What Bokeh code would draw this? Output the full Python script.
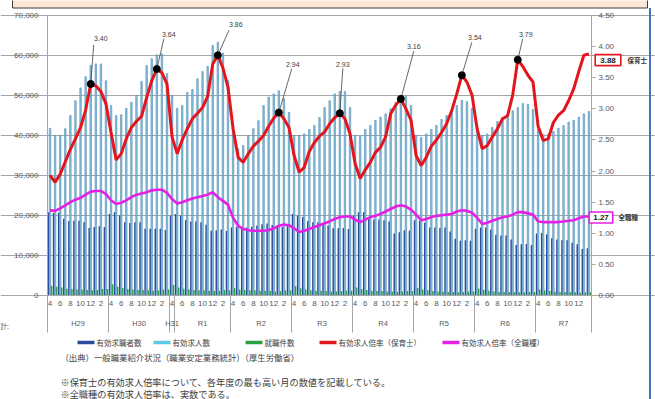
from bokeh.plotting import figure
from bokeh.models import (Range1d, LinearAxis, FixedTicker, ColumnDataSource, Label,
                          CustomJSTickFormatter, NumeralTickFormatter, Grid)
from bokeh.transform import dodge
from bokeh.embed import file_html
from bokeh.resources import INLINE
from bokeh.core.properties import value

# ---------------- data (monthly, Apr 2017 .. Feb 2026) ----------------
fiscal_years = ["H29", "H30", "H31", "R1", "R2", "R3", "R4", "R5", "R6", "R7"]
fy_months = [12, 12, 1, 11, 12, 12, 12, 12, 12, 11]
cal_months = [4, 5, 6, 7, 8, 9, 10, 11, 12, 1, 2, 3]

# 有効求人倍率(保育士)
ratio_hoikushi = [
    1.93, 1.82, 1.95, 2.15, 2.35, 2.52, 2.70, 2.98, 3.40, 3.37, 3.28, 3.08,
    2.62, 2.18, 2.28, 2.52, 2.70, 2.80, 2.88, 3.18, 3.45, 3.64, 3.58, 3.40,
    2.55, 2.28, 2.50, 2.68, 2.84, 2.93, 3.02, 3.20, 3.72, 3.86, 3.66, 3.35,
    2.68, 2.22, 2.14, 2.28, 2.40, 2.48, 2.57, 2.72, 2.85, 2.94, 2.84, 2.70,
    2.25, 1.98, 2.06, 2.32, 2.46, 2.56, 2.63, 2.76, 2.86, 2.93, 2.84, 2.60,
    2.12, 1.88, 2.02, 2.14, 2.30, 2.38, 2.55, 2.92, 3.06, 3.16, 3.00, 2.82,
    2.25, 2.09, 2.22, 2.40, 2.50, 2.62, 2.76, 2.97, 3.24, 3.54, 3.43, 3.22,
    2.68, 2.36, 2.41, 2.55, 2.68, 2.84, 2.89, 3.22, 3.79, 3.68, 3.54, 3.43,
    2.72, 2.49, 2.52, 2.78, 2.90, 2.97, 3.13, 3.32, 3.60, 3.86, 3.88]

# 有効求人倍率(全職種)
ratio_all = [
    1.37, 1.36, 1.40, 1.45, 1.50, 1.54, 1.57, 1.62, 1.67, 1.68, 1.68, 1.63,
    1.53, 1.47, 1.49, 1.53, 1.58, 1.62, 1.64, 1.66, 1.69, 1.70, 1.70, 1.65,
    1.55, 1.48, 1.50, 1.53, 1.56, 1.58, 1.60, 1.62, 1.66, 1.58, 1.52, 1.46,
    1.25, 1.12, 1.07, 1.05, 1.04, 1.04, 1.04, 1.05, 1.08, 1.12, 1.14, 1.13,
    1.08, 1.02, 1.04, 1.07, 1.10, 1.13, 1.16, 1.19, 1.23, 1.26, 1.27, 1.27,
    1.22, 1.18, 1.22, 1.26, 1.28, 1.31, 1.35, 1.39, 1.43, 1.45, 1.43, 1.38,
    1.30, 1.21, 1.23, 1.26, 1.28, 1.29, 1.30, 1.31, 1.35, 1.37, 1.36, 1.33,
    1.25, 1.15, 1.17, 1.20, 1.23, 1.26, 1.27, 1.30, 1.34, 1.34, 1.32, 1.30,
    1.19, 1.18, 1.18, 1.18, 1.18, 1.19, 1.20, 1.21, 1.24, 1.27, 1.27]

# 有効求人数
job_openings = [
    41800, 40000, 40000, 41700, 45000, 48700, 51900, 54700, 57500, 57900, 57900, 53700,
    47500, 45000, 45200, 46800, 48300, 50000, 53500, 57500, 59200, 60200, 60400, 55500,
    50000, 46800, 47500, 50800, 51500, 54200, 56000, 57300, 62500, 63300, 60600, 53700,
    42500, 36700, 37500, 40000, 41700, 43700, 47500, 49600, 50400, 51200, 49200, 45800,
    40000, 40000, 40400, 41500, 42500, 44500, 47000, 48700, 50400, 51000, 51000, 47000,
    40000, 39800, 41500, 42500, 43800, 44600, 45400, 46700, 48300, 49600, 49800, 47500,
    40000, 39500, 40400, 41500, 42500, 44000, 45000, 46300, 47500, 48800, 48500, 46800,
    42000, 40000, 40400, 42000, 43500, 44500, 45300, 46200, 47000, 48000, 47800, 46500,
    41500, 40200, 40400, 41000, 41800, 42500, 43300, 43800, 44600, 45400, 46000]

# 有効求職者数
job_seekers = [
    20800, 20600, 20700, 19200, 18600, 18700, 18700, 18300, 16900, 17100, 17300, 17100,
    20400, 20800, 20000, 18300, 18100, 18300, 18300, 16700, 16700, 16700, 16700, 16400,
    20000, 20400, 20000, 18900, 18500, 18500, 18300, 17700, 16200, 16300, 16500, 16100,
    17000, 17200, 17000, 17000, 17200, 17500, 17800, 18000, 17600, 17500, 17200, 17500,
    20400, 20000, 19600, 18600, 18300, 18300, 18000, 17500, 16800, 16800, 16900, 16600,
    20000, 20800, 20800, 19500, 19000, 19000, 18800, 18500, 15500, 15800, 16300, 16200,
    18800, 18700, 18200, 17000, 17000, 16900, 17000, 16000, 14200, 13700, 13800, 13700,
    16700, 17000, 17000, 16500, 15200, 15000, 15000, 14000, 12600, 12800, 12900, 12600,
    15500, 15600, 15300, 14300, 14000, 13800, 13800, 13200, 12800, 11600, 11800]

# 就職件数
placements = [
    2400, 2200, 2000, 1700, 1600, 1500, 1500, 1400, 1300, 1400, 1600, 1600,
    2800, 2200, 1900, 1600, 1500, 1400, 1400, 1300, 1200, 1300, 1500, 1500,
    2600, 2000, 1700, 1500, 1400, 1300, 1300, 1200, 1100, 1200, 1400, 1300,
    1800, 1500, 1400, 1300, 1300, 1200, 1200, 1100, 1000, 1100, 1300, 1300,
    2300, 1800, 1500, 1300, 1200, 1200, 1100, 1000, 1000, 1100, 1200, 1200,
    2000, 1600, 1400, 1200, 1100, 1100, 1000, 1000, 900, 1000, 1100, 1100,
    1900, 1500, 1300, 1100, 1000, 1000, 900, 900, 800, 900, 1000, 1000,
    1700, 1400, 1200, 1000, 900, 900, 900, 800, 800, 800, 900, 900,
    1500, 1300, 1100, 1000, 900, 900, 800, 800, 700, 800, 800]

legend_names = ["有効求職者数", "有効求人数", "就職件数", "有効求人倍率（保育士）", "有効求人倍率（全職種）"]
source_text = "（出典）一般職業紹介状況（職業安定業務統計）（厚生労働省）"
note_texts = ["※保育士の有効求人倍率について、各年度の最も高い月の数値を記載している。",
              "※全職種の有効求人倍率は、実数である。"]

# ---------------- geometry (pixels of the 655x399 page) ----------------
W, H = 655, 399
FL, FR, FT, FB = 47, 591, 15, 295          # plot area of the chart
N = len(ratio_hoikushi)
XMIN, XMAX = -0.5, N - 0.5
PPX = (FR - FL) / (XMAX - XMIN)
LMAX, RMAX = 70000, 4.5

def X(px):
    return XMIN + (px - FL) / PPX

def YL(py):
    return (FB - py) * LMAX / (FB - FT)

def YR(py):
    return (FB - py) * RMAX / (FB - FT)

def RPX(dpx):
    return dpx * RMAX / (FB - FT)

C_DARK = "#2c4a9e"
C_LIGHT = "#8cc6df"
C_LIGHT_EDGE = "#3a7aa6"
C_GREEN = "#2aa243"
C_RED = "#e3161d"
C_MAG = "#e51fe5"
C_TXT = "#404040"
C_TICK = "#595959"
C_AX = "#a6a6a6"
JP = "Noto Sans CJK JP"
NUM = "Liberation Sans"

idx = list(range(N))
src = ColumnDataSource(dict(i=idx, seekers=job_seekers, openings=job_openings,
                            placements=placements, red=ratio_hoikushi, mag=ratio_all))

# the frame covers the whole page; axes are pinned at the plot-area edges
p = figure(width=W, height=H, x_range=Range1d(X(0), X(W)), y_range=Range1d(YL(H), YL(0)),
           output_backend="svg", toolbar_location=None, title=None,
           x_axis_type=None, y_axis_type=None, min_border=0)
p.extra_y_ranges = {"r": Range1d(YR(H), YR(0))}
p.outline_line_color = None
p.background_fill_color = "white"
p.border_fill_color = "white"

# grid
p.add_layout(Grid(dimension=1, ticker=FixedTicker(ticks=list(range(0, LMAX + 1, 10000))),
                  bounds=(XMIN, XMAX), grid_line_color=C_AX, grid_line_width=1))

# left axis
yl = LinearAxis(ticker=FixedTicker(ticks=list(range(0, LMAX + 1, 10000))),
                formatter=NumeralTickFormatter(format="0,0"),
                fixed_location=XMIN, bounds=(0, LMAX))
yl.major_tick_out = 0
yl.major_tick_in = 0
yl.minor_tick_line_color = None
yl.axis_line_color = C_AX
yl.major_label_standoff = 9
yl.major_label_text_font = NUM
yl.major_label_text_font_size = "8px"
yl.major_label_text_color = C_TICK
p.add_layout(yl, "left")

# right axis
yr = LinearAxis(y_range_name="r", ticker=FixedTicker(ticks=[k * 0.5 for k in range(10)]),
                formatter=NumeralTickFormatter(format="0.00"),
                fixed_location=XMAX, bounds=(0, RMAX))
yr.major_tick_out = 4
yr.major_tick_in = 0
yr.major_tick_line_color = C_AX
yr.minor_tick_line_color = None
yr.axis_line_color = C_AX
yr.major_label_standoff = 3
yr.major_label_text_font = NUM
yr.major_label_text_font_size = "8px"
yr.major_label_text_color = C_TICK
p.add_layout(yr, "right")

# month axis
month_of = [cal_months[i % 12] for i in idx]
month_labels = [str(month_of[i]) if (i % 2 == 0 and i < N - 1) else "" for i in idx]
bounds = [0]
for n in fy_months:
    bounds.append(bounds[-1] + n)
dividers = [b - 0.5 for b in bounds]
centers = [(bounds[k] + bounds[k + 1] - 1) / 2 for k in range(len(fy_months))]

xm = LinearAxis(ticker=FixedTicker(ticks=[i for i in idx if month_labels[i]]),
                formatter=CustomJSTickFormatter(args=dict(labels=month_labels),
                                                code="return labels[Math.round(tick)] || '';"),
                fixed_location=0, bounds=(XMIN, XMAX))
xm.major_tick_out = 0
xm.major_tick_in = 0
xm.minor_tick_line_color = None
xm.axis_line_color = C_AX
xm.major_label_standoff = 5
xm.major_label_text_font = NUM
xm.major_label_text_font_size = "8px"
xm.major_label_text_color = C_TICK
p.add_layout(xm, "below")

# fiscal-year dividers (long ticks, no labels)
xd = LinearAxis(ticker=FixedTicker(ticks=dividers),
                formatter=CustomJSTickFormatter(code="return '';"),
                fixed_location=0, bounds=(XMIN, XMAX))
xd.major_tick_out = 37
xd.major_tick_in = 0
xd.major_tick_line_color = C_AX
xd.minor_tick_line_color = None
xd.axis_line_color = None
p.add_layout(xd, "below")

# fiscal-year names
xy = LinearAxis(ticker=FixedTicker(ticks=centers),
                formatter=CustomJSTickFormatter(args=dict(pos=centers, names=fiscal_years),
                    code="for (let k = 0; k < pos.length; k++) { if (Math.abs(pos[k] - tick) < 0.01) return names[k]; } return '';"),
                fixed_location=0, bounds=(XMIN, XMAX))
xy.major_tick_out = 0
xy.major_tick_in = 0
xy.minor_tick_line_color = None
xy.major_tick_line_color = None
xy.axis_line_color = None
xy.major_label_standoff = 23
xy.major_label_text_font = NUM
xy.major_label_text_font_size = "7.5px"
xy.major_label_text_color = C_TICK
p.add_layout(xy, "below")

# bars
p.vbar(x=dodge("i", -0.3, range=p.x_range), top="seekers", width=0.3, source=src,
       fill_color=C_DARK, line_color=None)
p.vbar(x=dodge("i", 0.0, range=p.x_range), top="openings", width=0.3, source=src,
       fill_color=C_LIGHT, line_color=C_LIGHT_EDGE, line_width=0.5)
p.vbar(x=dodge("i", 0.3, range=p.x_range), top="placements", width=0.3, source=src,
       fill_color=C_GREEN, line_color=None)

# lines
p.line("i", "mag", source=src, y_range_name="r", line_color=C_MAG, line_width=2.6)
p.line("i", "red", source=src, y_range_name="r", line_color=C_RED, line_width=3)

# fiscal-year peak annotations (all but the running year)
peak_i, peak_v = [], []
for k in range(8):
    block = ratio_hoikushi[12 * k:12 * k + 12]
    m = max(block)
    peak_i.append(12 * k + block.index(m))
    peak_v.append(m)
lbl_dx = [10, 12, 18, 14, 3, 13, 13, 8]
lbl_dy = [-45, -35, -31, -48, -49, -52, -38, -25]
lead_dx = [3, 7, 11, 13, 3, 13, 10, 5]
lead_dy = [-39, -30, -25, -44, -45, -48, -33, -21]
p.segment(x0=peak_i, y0=peak_v,
          x1=[a + d / PPX for a, d in zip(peak_i, lead_dx)],
          y1=[v - RPX(d) for v, d in zip(peak_v, lead_dy)],
          y_range_name="r", line_color="#404040", line_width=0.8)
p.scatter(peak_i, peak_v, y_range_name="r", size=7, color="black")
p.text(x=peak_i, y=peak_v, text=[f"{v:.2f}" for v in peak_v], y_range_name="r",
       x_offset=lbl_dx, y_offset=lbl_dy, text_align="center", text_baseline="middle",
       text_font=value(NUM), text_font_size="7px", text_color=C_TXT)

# end-value boxes at the right
p.add_layout(Label(x=X(607.5), y=ratio_hoikushi[-1] - RPX(6), y_range_name="r",
                   text=f"{ratio_hoikushi[-1]:.2f}", text_align="center", text_baseline="middle",
                   text_font=NUM, text_font_size="8px", text_font_style="bold", text_color="#222222",
                   border_line_color=C_RED, border_line_width=1.6,
                   background_fill_color="white", padding=(5, 3)))
p.add_layout(Label(x=X(627), y=ratio_hoikushi[-1] - RPX(6), y_range_name="r", text="保育士",
                   text_align="left", text_baseline="middle", text_font=JP,
                   text_font_size="6.5px", text_font_style="bold", text_color="#333333"))
p.add_layout(Label(x=X(600.5), y=ratio_all[-1] - RPX(1), y_range_name="r",
                   text=f"{ratio_all[-1]:.2f}", text_align="center", text_baseline="middle",
                   text_font=NUM, text_font_size="8px", text_font_style="bold", text_color="#222222",
                   border_line_color=C_MAG, border_line_width=1.6,
                   background_fill_color="white", padding=(4, 3)))
p.add_layout(Label(x=X(618), y=ratio_all[-1] - RPX(1), y_range_name="r", text="全職種",
                   text_align="left", text_baseline="middle", text_font=JP,
                   text_font_size="6.5px", text_font_style="bold", text_color="#333333"))

# legend row
leg_colors = [C_DARK, "#5fc8e6", C_GREEN, C_RED, C_MAG]
leg_x = [77, 153, 245, 319, 442]
LEG_Y = 342
p.segment(x0=[X(v) for v in leg_x], x1=[X(v + 17) for v in leg_x],
          y0=[YL(LEG_Y)] * 5, y1=[YL(LEG_Y)] * 5, line_color=leg_colors, line_width=3.5)
p.text(x=[X(v + 19) for v in leg_x], y=[YL(LEG_Y)] * 5, text=legend_names,
       text_align="left", text_baseline="middle", text_font=value(JP),
       text_font_size="7.5px", text_color=C_TXT)

# source and notes
p.text(x=[X(60)], y=[YL(356)], text=[source_text], text_align="left", text_baseline="middle",
       text_font=value(JP), text_font_size="8.4px", text_color=C_TXT)
p.text(x=[X(60), X(60)], y=[YL(381), YL(393)], text=note_texts, text_align="left",
       text_baseline="middle", text_font=value(JP), text_font_size="9.2px", text_color=C_TXT)
p.text(x=[X(0)], y=[YL(325)], text=["計:"], text_align="left", text_baseline="middle",
       text_font=value(JP), text_font_size="6.5px", text_color="#555555")

# slide decorations: banner strip at the top, blue border on the right
p.quad(left=[X(12)], right=[X(647)], bottom=[YL(7.5)], top=[YL(-3)],
       fill_color="#fce6d6", line_color="#3a3a3a", line_width=1)
p.quad(left=[X(648.5)], right=[X(650.5)], bottom=[YL(402)], top=[YL(7.5)],
       fill_color="#4472c4", line_color=None)

open("out.html", "w").write(file_html(p, INLINE))
